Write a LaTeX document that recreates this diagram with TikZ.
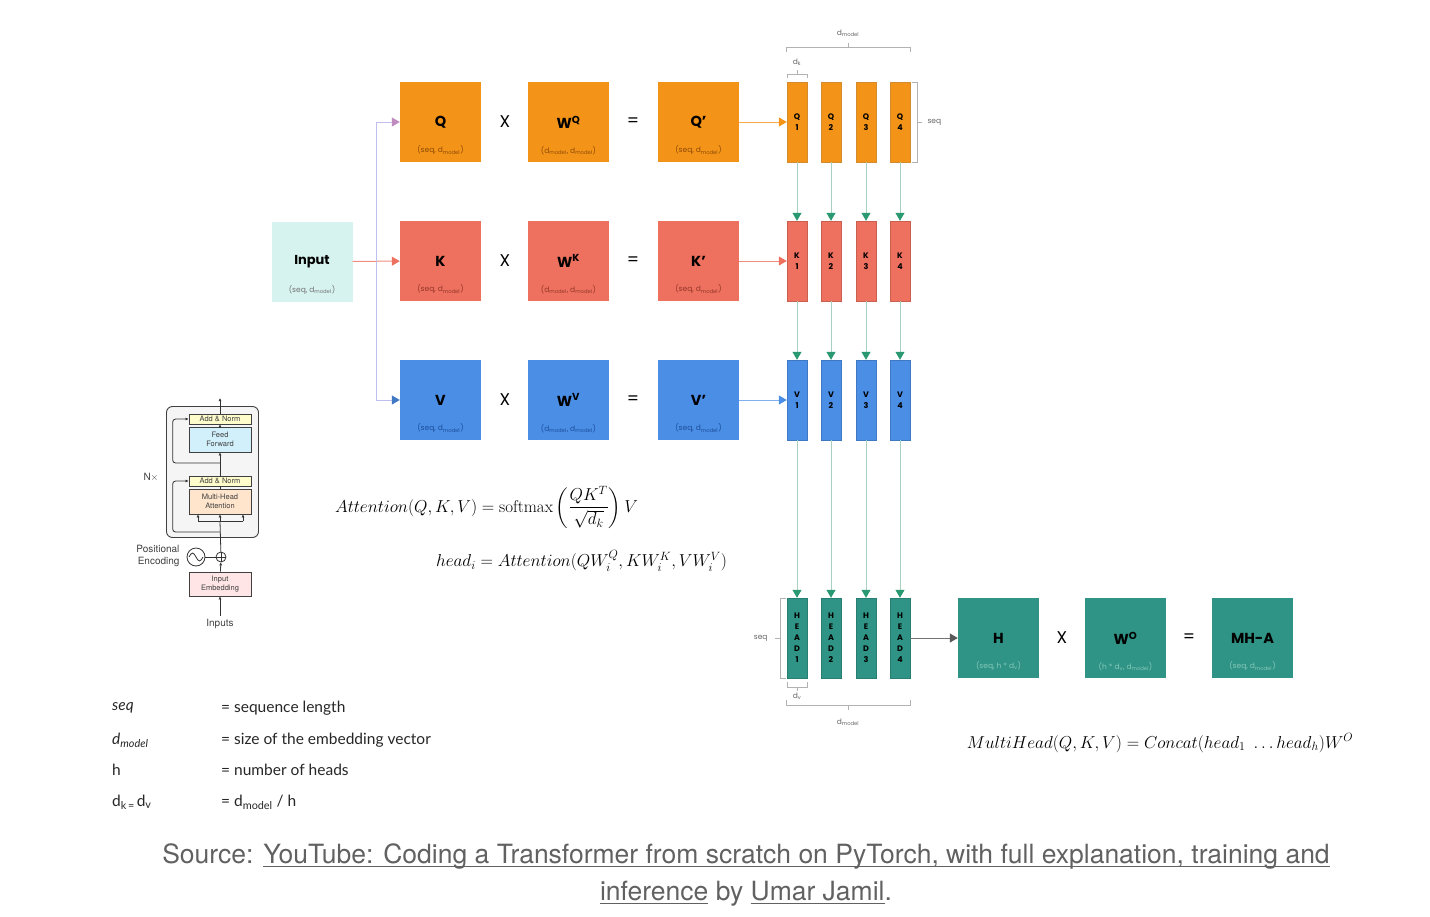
\documentclass[tikz,border=0pt]{standalone}
\usepackage{amsmath,amssymb}
\usepackage{fontspec}
\usepackage{tikz}
\usetikzlibrary{arrows.meta}
\newfontfamily\boxfont{Poppins}
\newfontfamily\legfont{Lato}
\newfontfamily\capfont{TeX Gyre Heros}
\definecolor{qor}{HTML}{F39419}
\definecolor{qdark}{HTML}{8E4A06}
\definecolor{kred}{HTML}{EE705E}
\definecolor{kdark}{HTML}{94372A}
\definecolor{vblue}{HTML}{4A8EE6}
\definecolor{vdark}{HTML}{1D4E9A}
\definecolor{hteal}{HTML}{2F9485}
\definecolor{hlight}{HTML}{86C8BA}
\definecolor{incyan}{HTML}{D6F3EF}
\definecolor{garrow}{HTML}{2A9870}
\definecolor{gline}{HTML}{A8CFC0}
\newcommand{\dm}{d\textsubscript{model}}
\newcommand{\lnk}[1]{\setbox0\hbox{#1}\rlap{\rule[-3.5pt]{\wd0}{1pt}}\box0\relax}

\tikzset{
  mat/.style={minimum width=81pt, minimum height=80pt, inner sep=0pt, font=\boxfont\bfseries\fontsize{14.5}{14.5}\selectfont},
  col/.style={minimum width=20pt, minimum height=80pt, inner sep=0pt, align=center, font=\boxfont\bfseries\fontsize{8}{11}\selectfont},
  dim/.style={anchor=south, yshift=4pt, font=\boxfont\fontsize{7.5}{7.5}\selectfont},
  op/.style={font=\boxfont\fontsize{17}{17}\selectfont},
  brk/.style={draw=black!30, line width=0.8pt},
  tinylab/.style={font=\boxfont\fontsize{7.5}{7.5}\selectfont, text=black!60},
  tip/.style={-{Triangle[width=9pt,length=8pt]}, line width=1pt},
  gdown/.style={draw=gline, line width=1pt, -{Triangle[width=9pt,length=8pt,fill=garrow,color=garrow]}},
  blk/.style={draw=black!75, line width=0.7pt, minimum width=62pt, inner sep=0pt, align=center, font=\capfont\fontsize{7.5}{8.5}\selectfont, text=black!75},
  sml/.style={draw=black!80, line width=0.8pt, -{Latex[length=3pt,width=3pt]}},
  leg/.style={anchor=west, inner sep=0pt, font=\legfont\fontsize{15.5}{15.5}\selectfont, text=black!85},
}

\begin{document}
\begin{tikzpicture}[x=1pt,y=-1pt]
  \useasboundingbox (0,0) rectangle (1430,916);

  % input and the three projections
  \node[mat, fill=incyan, font=\boxfont\bfseries\fontsize{13}{13}\selectfont, label={[dim, text=black!55]south:(seq, \dm)}] (inp) at (312,261.5) {Input};
  \node[mat, fill=qor, label={[dim, text=qdark]south:(seq, \dm)}] (Q) at (440.5,122) {Q};
  \node[mat, fill=qor, label={[dim, text=qdark]south:(\dm, \dm)}] (WQ) at (568.5,122) {W\textsuperscript{Q}};
  \node[mat, fill=qor, label={[dim, text=qdark]south:(seq, \dm)}] (Qp) at (698.5,122) {Q’};
  \node[mat, fill=kred, label={[dim, text=kdark]south:(seq, \dm)}] (K) at (440.5,261) {K};
  \node[mat, fill=kred, label={[dim, text=kdark]south:(\dm, \dm)}] (WK) at (568.5,261) {W\textsuperscript{K}};
  \node[mat, fill=kred, label={[dim, text=kdark]south:(seq, \dm)}] (Kp) at (698.5,261) {K’};
  \node[mat, fill=vblue, label={[dim, text=vdark]south:(seq, \dm)}] (V) at (440.5,400) {V};
  \node[mat, fill=vblue, label={[dim, text=vdark]south:(\dm, \dm)}] (WV) at (568.5,400) {W\textsuperscript{V}};
  \node[mat, fill=vblue, label={[dim, text=vdark]south:(seq, \dm)}] (Vp) at (698.5,400) {V’};
  \node[op] (x1) at (505,122) {X}; \node[op] (e1) at (633,122) {=};
  \node[op] (x2) at (505,261) {X}; \node[op] (e2) at (633,261) {=};
  \node[op] (x3) at (505,400) {X}; \node[op] (e3) at (633,400) {=};

  \coordinate (split) at (376,261);
  \draw[tip, draw=kred!80, -{Triangle[width=9pt,length=8pt,color=kred]}] (inp) -- (K);
  \draw[tip, draw=black!25!blue!25, -{Triangle[width=9pt,length=8pt,color=black!10!violet!45]}] (split) |- (Q);
  \draw[tip, draw=black!25!blue!25, -{Triangle[width=9pt,length=8pt,color=vblue!85!black]}] (split) |- (V);

  % heads
  \node[col, fill=qor, draw=qor!85!black!90] (q1) at (797,122) {Q\\1}; \node[col, fill=qor, draw=qor!85!black!90] (q2) at (831,122) {Q\\2}; \node[col, fill=qor, draw=qor!85!black!90] (q3) at (866,122) {Q\\3}; \node[col, fill=qor, draw=qor!85!black!90] (q4) at (900,122) {Q\\4};
  \node[col, fill=kred, draw=kred!85!black] (k1) at (797,261) {K\\1}; \node[col, fill=kred, draw=kred!85!black] (k2) at (831,261) {K\\2}; \node[col, fill=kred, draw=kred!85!black] (k3) at (866,261) {K\\3}; \node[col, fill=kred, draw=kred!85!black] (k4) at (900,261) {K\\4};
  \node[col, fill=vblue, draw=vblue!85!black] (v1) at (797,400) {V\\1}; \node[col, fill=vblue, draw=vblue!85!black] (v2) at (831,400) {V\\2}; \node[col, fill=vblue, draw=vblue!85!black] (v3) at (866,400) {V\\3}; \node[col, fill=vblue, draw=vblue!85!black] (v4) at (900,400) {V\\4};
  \node[col, fill=hteal, draw=hteal!85!black] (h1) at (797,638) {H\\E\\A\\D\\1}; \node[col, fill=hteal, draw=hteal!85!black] (h2) at (831,638) {H\\E\\A\\D\\2}; \node[col, fill=hteal, draw=hteal!85!black] (h3) at (866,638) {H\\E\\A\\D\\3}; \node[col, fill=hteal, draw=hteal!85!black] (h4) at (900,638) {H\\E\\A\\D\\4};

  \draw[tip, draw=qor!80, -{Triangle[width=9pt,length=8pt,color=qor]}] (Qp) -- (q1);
  \draw[tip, draw=kred!80, -{Triangle[width=9pt,length=8pt,color=kred]}] (Kp) -- (k1);
  \draw[tip, draw=vblue!70, -{Triangle[width=9pt,length=8pt,color=vblue]}] (Vp) -- (v1);
  \draw[gdown] (q1) -- (k1); \draw[gdown] (q2) -- (k2); \draw[gdown] (q3) -- (k3); \draw[gdown] (q4) -- (k4);
  \draw[gdown] (k1) -- (v1); \draw[gdown] (k2) -- (v2); \draw[gdown] (k3) -- (v3); \draw[gdown] (k4) -- (v4);
  \draw[gdown] (v1) -- (h1); \draw[gdown] (v2) -- (h2); \draw[gdown] (v3) -- (h3); \draw[gdown] (v4) -- (h4);

  % brackets
  \draw[brk] (786,52) -- (786,47) -- (910,47) -- (910,52); \draw[brk] (848,47) -- (848,43);
  \node[tinylab] (tdm) at (848,33) {\dm};
  \draw[brk] (787,78) -- (787,74) -- (807,74) -- (807,78); \draw[brk] (797,74) -- (797,70);
  \node[tinylab] (tdk) at (797,62) {d\textsubscript{k}};
  \draw[brk] (912,82) -- (917,82) -- (917,162) -- (912,162); \draw[brk] (917,122) -- (922,122);
  \node[tinylab, anchor=west] (tseq) at (924,122.5) {seq};
  \draw[brk] (786,598) -- (780,598) -- (780,678) -- (786,678); \draw[brk] (780,638) -- (775,638);
  \node[tinylab, anchor=east] (bseq) at (771,638) {seq};
  \draw[brk] (787,682) -- (787,687) -- (807,687) -- (807,682); \draw[brk] (797,687) -- (797,691);
  \node[tinylab] (bdv) at (797,696) {d\textsubscript{v}};
  \draw[brk] (786,700) -- (786,705) -- (910,705) -- (910,700); \draw[brk] (848,705) -- (848,710);
  \node[tinylab] (bdm) at (848,722) {\dm};

  % output projection
  \node[mat, fill=hteal, label={[dim, text=hlight]south:(seq, h * d\textsubscript{v})}] (H) at (998.5,638) {H};
  \node[mat, fill=hteal, label={[dim, text=hlight]south:(h * d\textsubscript{v}, \dm)}] (WO) at (1125.5,638) {W\textsuperscript{O}};
  \node[mat, fill=hteal, label={[dim, text=hlight]south:(seq, \dm)}] (MHA) at (1252.5,638) {MH-A};
  \node[op] (x4) at (1062,638) {X}; \node[op] (e4) at (1189,638) {=};
  \draw[tip, draw=black!55, -{Triangle[width=9pt,length=8pt,color=black!65]}] (h4) -- (H);

  % formulas
  \node[font=\fontsize{17}{20}\selectfont, inner sep=0pt] (att) at (486.5,507) {$Attention(Q,K,V)=\mathrm{softmax}\left(\dfrac{QK^T}{\sqrt{d_k}}\right)V$};
  \node[font=\fontsize{17}{20}\selectfont, inner sep=0pt] (hd) at (581.5,561) {$head_i=Attention(QW_i^Q,KW_i^K,VW_i^V)$};
  \node[font=\fontsize{17}{20}\selectfont] (mh) at (1160,743) {$MultiHead(Q,K,V)=Concat(head_1\ \ldots head_h)W^O$};

  % encoder sketch
  \node[draw=black!75, line width=0.9pt, rounded corners=6pt, fill=black!4, minimum width=92pt, minimum height=131pt] (enc) at (212.5,472) {};
  \node[blk, fill=yellow!20, minimum height=10pt] (an1) at (220,419) {Add \& Norm};
  \node[blk, fill=cyan!18, minimum height=25pt] (ff) at (220,439.5) {Feed\\Forward};
  \node[blk, fill=yellow!20, minimum height=10pt] (an2) at (220,481) {Add \& Norm};
  \node[blk, fill=orange!20, minimum height=25pt] (mh2) at (220,501.5) {Multi-Head\\Attention};
  \node[blk, fill=red!10, minimum height=24pt] (emb) at (220,584) {Input\\Embedding};
  \node[draw=black!80, line width=0.8pt, circle, minimum size=10pt, inner sep=0pt] (plus) at (221,557) {};
  \draw[black!80, line width=0.7pt] (plus.north) -- (plus.south) (plus.west) -- (plus.east);
  \node[draw=black!80, line width=0.8pt, circle, minimum size=18pt, inner sep=0pt] (pos) at (196,557) {};
  \draw[black!80, line width=0.8pt] (189,557) sin (192.5,553) cos (196,557) sin (199.5,561) cos (203,557);
  \node[font=\capfont\fontsize{10}{12}\selectfont, text=black!75] (ins) at (220,624) {Inputs};
  \node[font=\capfont\fontsize{10}{12}\selectfont, text=black!75, align=right, anchor=east] (pe) at (183,556) {Positional\\Encoding};
  \node[font=\capfont\fontsize{10}{12}\selectfont, text=black!75] (nx) at (151,477) {N$\times$};
  \coordinate (sp) at (220,521); \coordinate (r1) at (220,532); \coordinate (r2) at (220,463); \coordinate (top) at (220,398);
  \draw[sml] (ins) -- (emb); \draw[sml] (emb) -- (plus); \draw[black!80, line width=0.8pt] (pos) -- (plus);
  \draw[black!80, line width=0.8pt] (plus) -- (sp); \draw[black!80, line width=0.8pt] (198,521) -- (243,521);
  \draw[sml] (sp) -- (mh2.south); \draw[sml] (198,521) -- (mh2.south -| 198,0); \draw[sml] (243,521) -- (mh2.south -| 243,0);
  \draw[sml, rounded corners=3pt] (r1) -| ([xshift=-16pt]an2.west) -- (an2.west);
  \draw[black!80, line width=0.8pt] (mh2.north) -- (an2.south); \draw[sml] (an2) -- (ff);
  \draw[sml, rounded corners=3pt] (r2) -| ([xshift=-16pt]an1.west) -- (an1.west);
  \draw[sml] (ff) -- (an1); \draw[sml] (an1) -- (top);

  % legend
  \node[leg] (l1) at (112,708) {\itshape seq}; \node[leg] (l1b) at (221,708) {= sequence length};
  \node[leg] (l2) at (112,740) {\itshape d\textsubscript{model}}; \node[leg] (l2b) at (221,740) {= size of the embedding vector};
  \node[leg] (l3) at (112,770) {h}; \node[leg] (l3b) at (221,770) {= number of heads};
  \node[leg] (l4) at (112,802) {d\textsubscript{k\,=\,}d\textsubscript{v}}; \node[leg] (l4b) at (221,802) {= d\textsubscript{model} / h};

  % source
  \node[font=\capfont\fontsize{26.5}{37}\selectfont, text=black!62, align=center] (src) at (746,875) {Source: \lnk{YouTube: Coding a Transformer from scratch on PyTorch, with full explanation, training and}\\\lnk{inference} by \lnk{Umar Jamil}.};
\end{tikzpicture}
\end{document}
